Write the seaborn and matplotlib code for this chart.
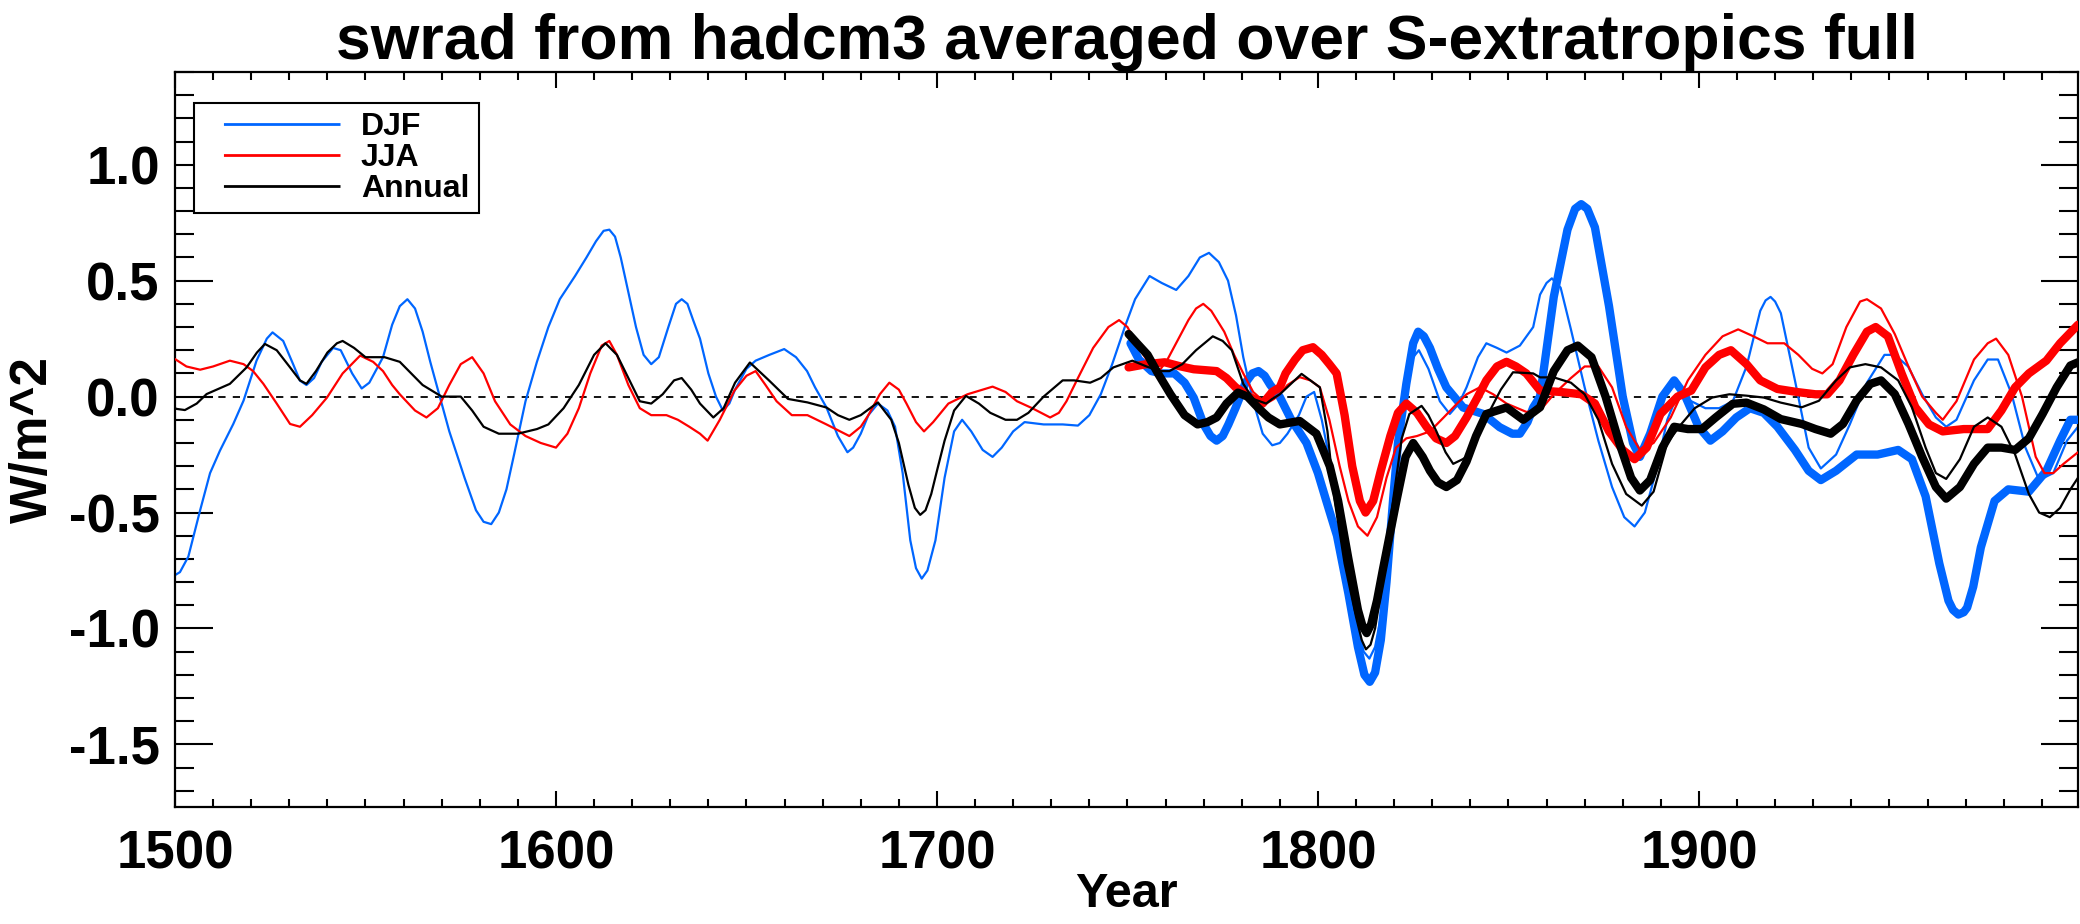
import numpy as np
import pandas as pd
import seaborn as sns
import matplotlib.pyplot as plt
from matplotlib.ticker import MultipleLocator

# (year, W/m^2) values
djf_thin = [(1500, -0.77), (1501.3, -0.757), (1503.5, -0.69), (1506.6, -0.49), (1509.2, -0.33), (1511.8, -0.233),
            (1515.3, -0.118), (1518, -0.017), (1521.4, 0.155), (1524.1, 0.25), (1525.6, 0.277), (1528.4, 0.24),
            (1531, 0.14), (1532.8, 0.069), (1534.5, 0.05), (1536.5, 0.08), (1538.5, 0.15), (1541.5, 0.21),
            (1543.5, 0.2), (1546.5, 0.10), (1549, 0.035), (1551, 0.06), (1554.6, 0.17), (1557, 0.31),
            (1559, 0.39), (1561, 0.42), (1563, 0.38), (1565, 0.28), (1567, 0.15), (1569, 0.03), (1572, -0.15),
            (1576, -0.35), (1579, -0.49), (1581, -0.54), (1583, -0.55), (1585, -0.5), (1587, -0.4),
            (1589, -0.25), (1592, -0.02), (1595, 0.15), (1598, 0.3), (1601, 0.42), (1605, 0.52), (1608, 0.6),
            (1610.5, 0.67), (1612.5, 0.715), (1614, 0.72), (1615.5, 0.69), (1617, 0.6), (1619, 0.45),
            (1621, 0.3), (1623, 0.18), (1625, 0.14), (1627, 0.17), (1629.5, 0.3), (1631.5, 0.4), (1633, 0.42),
            (1634.5, 0.4), (1636, 0.33), (1637.8, 0.25), (1640, 0.1), (1642, 0.0), (1643.8, -0.06),
            (1645.5, -0.03), (1647, 0.03), (1650, 0.12), (1652.4, 0.155), (1656, 0.18), (1659.9, 0.205),
            (1663, 0.17), (1665.9, 0.11), (1668, 0.04), (1671, -0.047), (1674, -0.17), (1676.5, -0.24),
            (1678, -0.22), (1680, -0.16), (1682, -0.08), (1684.5, -0.03), (1687, -0.06), (1689, -0.13),
            (1691, -0.33), (1693, -0.62), (1694.5, -0.74), (1696, -0.785), (1697.5, -0.75), (1699.6, -0.62),
            (1702, -0.35), (1704.5, -0.15), (1706.6, -0.10), (1709, -0.15), (1712, -0.23), (1714.6, -0.26),
            (1717, -0.22), (1720, -0.15), (1723, -0.11), (1728, -0.12), (1733, -0.12), (1737, -0.125),
            (1740, -0.08), (1743, 0.01), (1746, 0.14), (1749.3, 0.30), (1752, 0.42), (1755.8, 0.52),
            (1759, 0.49), (1762.8, 0.46), (1766, 0.52), (1769, 0.6), (1771.4, 0.62), (1774, 0.58),
            (1776.4, 0.50), (1778.5, 0.35), (1780.4, 0.17), (1783, -0.02), (1785.5, -0.16), (1788, -0.21),
            (1790, -0.20), (1792, -0.16), (1795, -0.08), (1797, 0.0), (1799, 0.02), (1801, -0.1), (1804, -0.35),
            (1807, -0.65), (1810, -0.95), (1812, -1.1), (1813.5, -1.13), (1815, -1.08), (1816.5, -0.95),
            (1818.5, -0.6), (1821, -0.2), (1823, 0.05), (1825, 0.17), (1826.5, 0.2), (1829, 0.12),
            (1832, -0.02), (1834.6, -0.075), (1837, -0.03), (1839, 0.04), (1842, 0.17), (1844.2, 0.23),
            (1847, 0.21), (1849.5, 0.19), (1853, 0.22), (1856.5, 0.30), (1858.3, 0.44), (1860, 0.49),
            (1861.4, 0.51), (1863.7, 0.47), (1866.4, 0.29), (1870, 0.04), (1873.6, -0.19), (1877.2, -0.39),
            (1880.4, -0.52), (1883.1, -0.56), (1885.8, -0.50), (1888.6, -0.33), (1891.7, -0.1), (1894.4, 0.01),
            (1898, -0.02), (1901.7, -0.05), (1905.3, -0.05), (1908.9, -0.02), (1912.5, 0.13), (1916.1, 0.37),
            (1917.5, 0.415), (1918.8, 0.43), (1920, 0.41), (1921.5, 0.36), (1925.2, 0.07), (1928.8, -0.22),
            (1932, -0.31), (1936, -0.25), (1939.6, -0.12), (1944.1, 0.06), (1948.7, 0.18), (1951.4, 0.18),
            (1954.9, 0.13), (1958.6, 0.01), (1962.2, -0.09), (1964.9, -0.13), (1967.6, -0.1), (1972.2, 0.07),
            (1975.8, 0.16), (1978.5, 0.16), (1982.1, 0.01), (1985.7, -0.22), (1989.3, -0.36), (1993, -0.33),
            (1996.6, -0.19), (1999.5, -0.13)]

djf_thick = [(1750.8, 0.23), (1753, 0.16), (1756.3, 0.11), (1759, 0.1), (1762.3, 0.1), (1765, 0.06),
             (1767.4, -0.005), (1770, -0.12), (1771.8, -0.17), (1773.4, -0.19), (1775, -0.17), (1776.5, -0.12),
             (1778.4, -0.048), (1781, 0.06), (1782.8, 0.1), (1784.4, 0.11), (1786, 0.09), (1787.5, 0.05),
             (1790, -0.002), (1793, -0.1), (1797, -0.2), (1800, -0.33), (1802.2, -0.45), (1805, -0.6),
             (1808, -0.85), (1810.5, -1.08), (1812.2, -1.2), (1813.6, -1.23), (1815, -1.19), (1816.5, -1.05),
             (1818, -0.8), (1819.7, -0.45), (1821, -0.2), (1823.2, 0.055), (1825, 0.23), (1826.3, 0.28),
             (1827.8, 0.26), (1829.4, 0.21), (1831.5, 0.12), (1833.7, 0.04), (1838.1, -0.047), (1843.4, -0.075),
             (1847.7, -0.132), (1851, -0.16), (1853, -0.16), (1855, -0.11), (1856.5, -0.047), (1858.3, 0.0),
             (1861.9, 0.43), (1865.5, 0.72), (1867.5, 0.81), (1869.1, 0.83), (1870.7, 0.81), (1872.7, 0.73),
             (1876.4, 0.39), (1880, 0.0), (1882.7, -0.20), (1884.5, -0.26), (1887.2, -0.16), (1890.4, 0.0),
             (1893.5, 0.07), (1896.2, 0.01), (1899.9, -0.13), (1903, -0.19), (1906.2, -0.15), (1909.8, -0.09),
             (1913.4, -0.05), (1917, -0.07), (1920.6, -0.13), (1925.2, -0.23), (1928.8, -0.32), (1932, -0.36),
             (1936, -0.32), (1941.4, -0.25), (1946.9, -0.25), (1952.3, -0.23), (1955.9, -0.27), (1959.5, -0.43),
             (1963.1, -0.72), (1965.5, -0.88), (1966.7, -0.92), (1968.1, -0.94), (1969.5, -0.93), (1970.4, -0.91),
             (1972, -0.82), (1974, -0.65), (1977.6, -0.45), (1981.2, -0.40), (1986.6, -0.41), (1991.2, -0.32),
             (1994.8, -0.19), (1997.5, -0.10), (1999.5, -0.10)]

jja_thin = [(1500, 0.162), (1503, 0.13), (1506.6, 0.116), (1510, 0.13), (1514.4, 0.155), (1518, 0.14),
            (1520.5, 0.11), (1523.2, 0.055), (1526.7, -0.03), (1530.2, -0.118), (1532.8, -0.13), (1536, -0.08),
            (1539.9, -0.004), (1544, 0.1), (1548.6, 0.177), (1552, 0.15), (1554.6, 0.11), (1557, 0.05),
            (1559, 0.01), (1563, -0.06), (1566, -0.09), (1569, -0.05), (1572, 0.05), (1575, 0.14), (1578, 0.17),
            (1581, 0.1), (1584, -0.02), (1588, -0.12), (1592, -0.17), (1596, -0.2), (1600, -0.22),
            (1603, -0.16), (1606, -0.05), (1609, 0.1), (1612, 0.22), (1614, 0.24), (1616, 0.18), (1619, 0.05),
            (1622, -0.05), (1625, -0.08), (1629, -0.08), (1632, -0.1), (1635, -0.13), (1637.8, -0.16),
            (1639.8, -0.19), (1643, -0.1), (1646.8, 0.025), (1650, 0.09), (1652.4, 0.11), (1655, 0.05),
            (1657.9, -0.02), (1661.9, -0.08), (1666, -0.08), (1671, -0.12), (1677, -0.17), (1680, -0.13),
            (1682, -0.08), (1685, 0.01), (1687.5, 0.06), (1690, 0.03), (1692, -0.03), (1694.5, -0.11),
            (1696.6, -0.15), (1699, -0.11), (1703, -0.03), (1708, 0.01), (1714.6, 0.043), (1718, 0.02),
            (1721, -0.02), (1725, -0.05), (1729.7, -0.09), (1732, -0.07), (1734, -0.02), (1737, 0.08),
            (1741, 0.21), (1745, 0.3), (1747.8, 0.33), (1750, 0.3), (1752.3, 0.23), (1755, 0.16),
            (1758.3, 0.11), (1760.5, 0.16), (1763.4, 0.25), (1766, 0.33), (1768, 0.38), (1769.9, 0.40),
            (1772, 0.37), (1775.4, 0.28), (1778, 0.18), (1780.4, 0.10), (1783, 0.02), (1786.4, -0.03),
            (1788.5, -0.01), (1790, 0.012), (1792, 0.05), (1795.2, 0.084), (1798, 0.07), (1800.5, 0.04),
            (1803, -0.1), (1805.7, -0.3), (1808, -0.45), (1810.5, -0.56), (1813, -0.6), (1815.5, -0.52),
            (1818, -0.35), (1820.5, -0.22), (1823.2, -0.18), (1826, -0.17), (1829.4, -0.15), (1833, -0.09),
            (1836.4, -0.032), (1839, 0.01), (1842.5, 0.04), (1846, 0.01), (1849.5, -0.03), (1854.7, -0.066),
            (1858.3, -0.06), (1861.9, 0.01), (1866.4, 0.08), (1870, 0.13), (1873.6, 0.13), (1877.2, 0.04),
            (1880.9, -0.13), (1884.5, -0.23), (1888.1, -0.2), (1892.6, -0.09), (1897.1, 0.07), (1901.7, 0.18),
            (1906.2, 0.26), (1910.3, 0.29), (1914.3, 0.26), (1918, 0.23), (1922.4, 0.23), (1926.1, 0.18),
            (1929.7, 0.12), (1932.4, 0.1), (1935.1, 0.14), (1938.7, 0.30), (1942.3, 0.41), (1944.1, 0.42),
            (1947.8, 0.38), (1951.4, 0.27), (1955, 0.13), (1958.6, 0.0), (1962.2, -0.07), (1964, -0.1),
            (1967.6, -0.02), (1972.2, 0.16), (1975.8, 0.23), (1978, 0.25), (1981.2, 0.18), (1984.8, 0.0),
            (1988.4, -0.26), (1990.7, -0.33), (1993, -0.33), (1995.7, -0.29), (1999.5, -0.24)]

jja_thick = [(1750.3, 0.126), (1755, 0.14), (1759.8, 0.148), (1764, 0.13), (1767.4, 0.118), (1773.4, 0.11),
             (1776, 0.08), (1778.4, 0.04), (1782, 0.0), (1785.5, -0.03), (1788, 0.02), (1790, 0.04),
             (1791.5, 0.1), (1794, 0.16), (1796, 0.2), (1798.7, 0.213), (1801, 0.18), (1803, 0.14),
             (1804.9, 0.10), (1807, -0.08), (1809, -0.3), (1811, -0.45), (1812.5, -0.5), (1814.5, -0.45),
             (1816.5, -0.32), (1819, -0.17), (1821, -0.07), (1823.2, -0.03), (1826, -0.07), (1828.5, -0.13),
             (1831, -0.18), (1833.7, -0.20), (1836, -0.17), (1839, -0.09), (1842, 0.0), (1844.2, 0.07),
             (1847, 0.13), (1849.5, 0.15), (1852, 0.13), (1854.7, 0.10), (1858.3, 0.026), (1863.7, 0.02),
             (1869.1, 0.01), (1872.7, -0.03), (1876.4, -0.15), (1880, -0.23), (1883.1, -0.27), (1886.3, -0.22),
             (1889.9, -0.075), (1894.4, 0.0), (1898, 0.026), (1901.7, 0.126), (1905.3, 0.18), (1908.4, 0.2),
             (1912.5, 0.14), (1916.1, 0.07), (1920.6, 0.033), (1926.1, 0.019), (1930.6, 0.01), (1933.7, 0.01),
             (1936.9, 0.07), (1940.5, 0.18), (1944.1, 0.28), (1946.4, 0.30), (1949.6, 0.26), (1953.2, 0.1),
             (1956.8, -0.046), (1960.4, -0.12), (1964, -0.15), (1969.5, -0.14), (1973.1, -0.14),
             (1975.8, -0.14), (1979.4, -0.06), (1983, 0.04), (1986.6, 0.1), (1991.2, 0.155), (1994.8, 0.23),
             (1999.5, 0.31)]

ann_thin = [(1500, -0.05), (1500.4, -0.053), (1502.6, -0.058), (1505.7, -0.03), (1508.3, 0.011), (1514.4, 0.055),
            (1518.8, 0.126), (1521.5, 0.19), (1523.6, 0.227), (1526.7, 0.2), (1530.2, 0.126), (1532.8, 0.07),
            (1534.5, 0.055), (1537, 0.11), (1540, 0.19), (1542.5, 0.23), (1544, 0.24), (1547, 0.21), (1550, 0.17),
            (1555, 0.17), (1559, 0.15), (1562, 0.1), (1565, 0.05), (1570, 0.0), (1575, 0.0), (1578, -0.06),
            (1581, -0.13), (1585, -0.16), (1590, -0.16), (1595, -0.14), (1598, -0.12), (1602, -0.05),
            (1606, 0.05), (1610, 0.18), (1613, 0.23), (1616, 0.18), (1619, 0.08), (1622, -0.02), (1625, -0.03),
            (1628, 0.01), (1631, 0.07), (1633, 0.08), (1635.5, 0.03), (1637.8, -0.03), (1641.3, -0.09),
            (1644, -0.05), (1647, 0.06), (1650.9, 0.147), (1655.9, 0.07), (1660.9, -0.01), (1666, -0.025),
            (1671, -0.047), (1674, -0.08), (1677, -0.1), (1680, -0.08), (1684.5, -0.025), (1688, -0.1),
            (1690, -0.2), (1692.5, -0.38), (1694.2, -0.48), (1695.6, -0.51), (1697, -0.49), (1698.5, -0.42),
            (1700, -0.32), (1702, -0.19), (1704.5, -0.06), (1707.6, 0.003), (1711, -0.03), (1714, -0.07),
            (1718, -0.1), (1721, -0.1), (1724, -0.07), (1728, 0.0), (1733, 0.07), (1736, 0.07), (1740.2, 0.06),
            (1743, 0.08), (1746.3, 0.126), (1751.3, 0.155), (1755, 0.13), (1758.3, 0.11), (1761, 0.11),
            (1764.4, 0.14), (1768, 0.2), (1772.4, 0.26), (1775, 0.24), (1777.4, 0.2), (1780.4, 0.055),
            (1783, -0.01), (1786.4, -0.03), (1788, -0.01), (1790, 0.01), (1795.7, 0.098), (1800.5, 0.04),
            (1802.5, -0.15), (1804.4, -0.45), (1807, -0.72), (1810, -0.95), (1811.5, -1.05), (1812.6, -1.09),
            (1813.8, -1.07), (1815, -1.0), (1817.5, -0.75), (1819.7, -0.45), (1822, -0.18), (1824, -0.075),
            (1827.2, -0.04), (1829, -0.08), (1831.1, -0.15), (1833.5, -0.24), (1835.5, -0.29), (1838, -0.27),
            (1839.9, -0.25), (1842, -0.17), (1844.2, -0.09), (1848, 0.03), (1851.2, 0.105), (1856.5, 0.1),
            (1858.3, 0.083), (1861.9, 0.083), (1866.4, 0.06), (1870, 0.01), (1873.6, -0.1), (1877.2, -0.29),
            (1880.9, -0.42), (1885, -0.47), (1888.1, -0.41), (1891.7, -0.2), (1895.3, -0.12), (1898.9, -0.05),
            (1903.5, -0.004), (1908, 0.01), (1912.5, 0.004), (1917, -0.004), (1921.5, -0.026), (1927, -0.046),
            (1931.5, -0.018), (1936, 0.07), (1939.6, 0.126), (1943.7, 0.14), (1947.8, 0.126), (1952.3, 0.07),
            (1955.9, -0.046), (1959.5, -0.22), (1962.2, -0.33), (1964.9, -0.355), (1968.5, -0.27),
            (1972.2, -0.13), (1975.8, -0.09), (1979.4, -0.13), (1983, -0.25), (1986.6, -0.42), (1989.3, -0.50),
            (1992.1, -0.52), (1994.8, -0.48), (1997.5, -0.40), (1999.5, -0.35)]

ann_thick = [(1750.3, 0.27), (1752.5, 0.23), (1755.3, 0.18), (1758, 0.1), (1761.3, 0.01), (1765, -0.08),
             (1768.4, -0.12), (1771, -0.11), (1773.4, -0.09), (1776, -0.03), (1779, 0.017), (1781.5, 0.0),
             (1784.4, -0.05), (1787, -0.09), (1790, -0.12), (1795.2, -0.105), (1799.6, -0.16), (1803.1, -0.3),
             (1805.3, -0.45), (1808, -0.7), (1810.5, -0.92), (1811.7, -0.99), (1812.8, -1.02), (1814, -0.98),
             (1815.5, -0.88), (1817, -0.75), (1820.6, -0.45), (1823, -0.26), (1825, -0.20), (1827.5, -0.26),
             (1829.4, -0.32), (1831.5, -0.37), (1833.7, -0.39), (1836.5, -0.36), (1839, -0.28), (1841.5, -0.17),
             (1844.2, -0.075), (1849.5, -0.047), (1853.9, -0.1), (1858.3, -0.046), (1861.9, 0.11), (1865.5, 0.2),
             (1868.2, 0.22), (1871.8, 0.17), (1875.5, 0.0), (1879.1, -0.2), (1882.2, -0.35), (1884.5, -0.405),
             (1887.2, -0.36), (1890.4, -0.22), (1893.5, -0.13), (1897.1, -0.14), (1900.8, -0.14), (1904.4, -0.09),
             (1908.9, -0.031), (1912.5, -0.026), (1917, -0.055), (1921.5, -0.097), (1927, -0.118),
             (1930.6, -0.14), (1934.6, -0.16), (1937.8, -0.118), (1941.4, -0.017), (1945, 0.055), (1947.8, 0.07),
             (1951.4, 0.011), (1955, -0.118), (1958.6, -0.26), (1962.2, -0.39), (1964.9, -0.44), (1968.5, -0.39),
             (1972.2, -0.29), (1975.8, -0.22), (1979.4, -0.22), (1983, -0.23), (1986.6, -0.18), (1990.2, -0.075),
             (1993.9, 0.04), (1997.5, 0.134), (1999.5, 0.148)]

BLUE = '#0066ff'
RED = '#ff0000'
BLACK = '#000000'

sns.set_style('ticks')
plt.rcParams['font.family'] = ['Liberation Sans', 'DejaVu Sans']
plt.rcParams['font.weight'] = 'bold'
plt.rcParams['text.color'] = 'black'
plt.rcParams['axes.labelcolor'] = 'black'

fig = plt.figure(figsize=(20.8, 9.24), dpi=100)
ax = fig.add_axes([175 / 2080, 1 - 807 / 924, 1903 / 2080, 735 / 924])

ax.axhline(0, color='black', lw=1.3, ls=(0, (4, 4)), zorder=1)

series = [
    (djf_thin, BLUE, 1.6),
    (djf_thick, BLUE, 6.0),
    (jja_thin, RED, 1.6),
    (jja_thick, RED, 6.0),
    (ann_thin, BLACK, 1.6),
    (ann_thick, BLACK, 6.0),
]
for i, (pts, col, lw) in enumerate(series):
    df = pd.DataFrame(pts, columns=['year', 'val'])
    sns.lineplot(data=df, x='year', y='val', ax=ax, color=col, lw=lw,
                 sort=False, estimator=None, zorder=2 + i, legend=False)

ax.set_xlim(1500, 1999.5)
ax.set_ylim(-1.77, 1.4)
ax.xaxis.set_minor_locator(MultipleLocator(10))
ax.yaxis.set_minor_locator(MultipleLocator(0.1))
ax.set_xticks([1500, 1600, 1700, 1800, 1900])
ax.set_yticks([-1.5, -1.0, -0.5, 0.0, 0.5, 1.0])
ax.set_yticklabels(['-1.5', '-1.0', '-0.5', '0.0', '0.5', '1.0'])

ax.tick_params(axis='both', which='both', direction='in', top=True, right=True, width=1.5,
               labelsize=38, colors='black')
ax.tick_params(axis='y', which='major', length=27, pad=11)
ax.tick_params(axis='y', which='minor', length=14)
ax.tick_params(axis='x', which='major', length=11.5, pad=16)
ax.tick_params(axis='x', which='minor', length=5.8)
for lab in ax.get_xticklabels() + ax.get_yticklabels():
    lab.set_fontweight('bold')
for sp in ax.spines.values():
    sp.set_linewidth(1.6)
    sp.set_color('black')

ax.set_xlabel('Year', fontsize=35, fontweight='bold', labelpad=-5, color='black')
ax.set_ylabel('W/m^2', fontsize=37, fontweight='bold', labelpad=8, color='black')
ax.set_title('swrad from hadcm3 averaged over S-extratropics full', fontsize=45, fontweight='bold',
             pad=8, color='black')

# legend handles: a gap before each line, as in the reference legend
gap_style = (135, (42, 100))
handles = [plt.Line2D([], [], color=c, lw=2, ls=gap_style) for c in (BLUE, RED, BLACK)]
leg = ax.legend(handles, ['DJF', 'JJA', 'Annual'], loc='upper left', bbox_to_anchor=(0.010, 0.958),
                borderaxespad=0, fontsize=23, handlelength=4.26, handletextpad=0.66, labelspacing=0.02,
                fancybox=False, framealpha=1, edgecolor='black', borderpad=0.3)
leg.get_frame().set_linewidth(1.5)
for t in leg.get_texts():
    t.set_fontweight('bold')
    t.set_color('black')

fig.savefig('out.png', dpi=100)
